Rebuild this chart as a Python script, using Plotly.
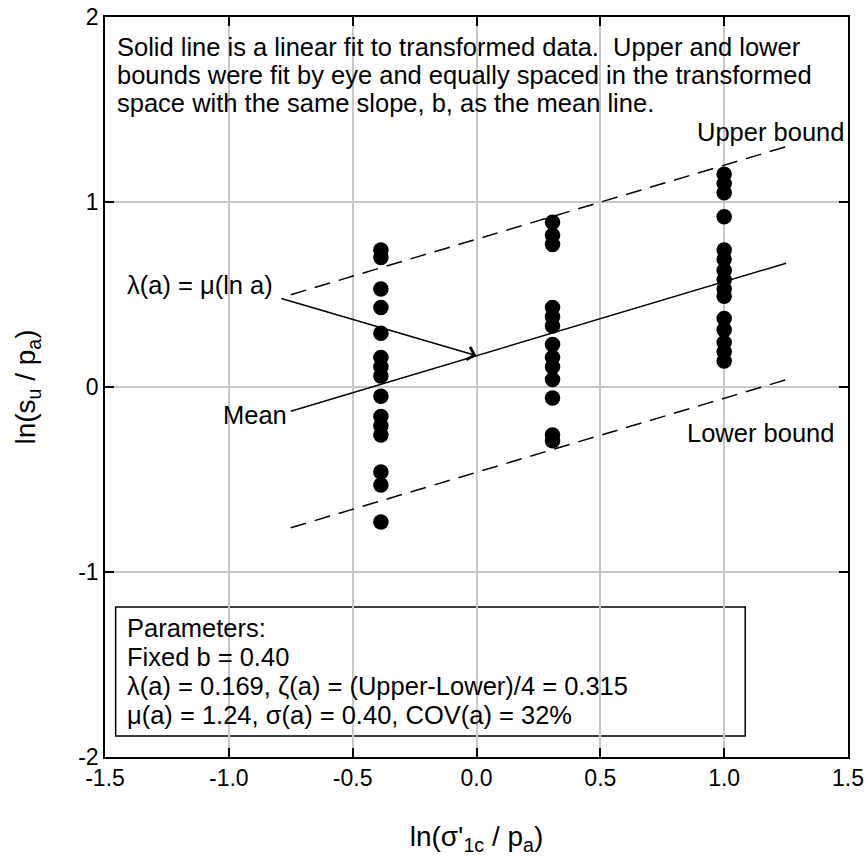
import plotly.graph_objects as go

# Stress levels ln(sigma'_1c / p_a) for the three test groups
x_levels = [-0.386, 0.307, 1.0]

# ln(s_u / p_a) measured at each stress level
y_group1 = [0.74, 0.70, 0.53, 0.43, 0.29, 0.16, 0.11, 0.06, -0.05,
            -0.16, -0.21, -0.26, -0.46, -0.53, -0.73]
y_group2 = [0.89, 0.82, 0.77, 0.43, 0.38, 0.33, 0.23, 0.16, 0.11,
            0.04, -0.06, -0.26, -0.29]
y_group3 = [1.15, 1.10, 1.05, 0.92, 0.74, 0.69, 0.63, 0.58, 0.53,
            0.49, 0.37, 0.31, 0.24, 0.19, 0.14]

# Fit parameters
b_slope = 0.40
lam = 0.169
zeta = 0.315
line_x = [-0.75, 1.25]

x_ticks = [-1.5, -1.0, -0.5, 0.0, 0.5, 1.0, 1.5]
x_tick_text = ["-1.5", "-1.0", "-0.5", "0.0", "0.5", "1.0", "1.5"]
y_ticks = [-2, -1, 0, 1, 2]
y_tick_text = ["-2", "-1", "0", "1", "2"]

note_lines = [
    "Solid line is a linear fit to transformed data.\u00a0 Upper and lower",
    "bounds were fit by eye and equally spaced in the transformed",
    "space with the same slope, b, as the mean line.",
]
param_lines = [
    "Parameters:",
    "Fixed b = 0.40",
    "\u03bb(a) = 0.169, \u03b6(a) = (Upper-Lower)/4 = 0.315",
    "\u03bc(a) = 1.24, \u03c3(a) = 0.40, COV(a) = 32%",
]

FONT = "Liberation Sans, Arial, sans-serif"
TXT = 25.5

mean_y = [lam + b_slope * x for x in line_x]
upper_y = [m + 2 * zeta for m in mean_y]
lower_y = [m - 2 * zeta for m in mean_y]

fig = go.Figure()

groups = [y_group1, y_group2, y_group3]
for xv, ys in zip(x_levels, groups):
    fig.add_trace(go.Scatter(
        x=[xv] * len(ys), y=ys, mode="markers",
        marker=dict(color="black", size=15.5, line=dict(width=0)),
        showlegend=False, hoverinfo="x+y"))

fig.add_trace(go.Scatter(x=line_x, y=mean_y, mode="lines",
                         line=dict(color="black", width=1.5),
                         showlegend=False))
for yy in (upper_y, lower_y):
    fig.add_trace(go.Scatter(x=line_x, y=yy, mode="lines",
                             line=dict(color="black", width=1.5, dash="16px,9px"),
                             showlegend=False))


def label(x, y, text, anchor="left"):
    return dict(x=x, y=y, xref="x", yref="y", text=text, showarrow=False,
                xanchor=anchor, yanchor="middle", borderpad=0,
                font=dict(family=FONT, size=TXT, color="black"))


ann = []
# Explanatory note at the top
for i, t in enumerate(note_lines):
    ann.append(label(-1.457, 1.838 - i * 0.152, t))
# Parameter block
for i, t in enumerate(param_lines):
    ann.append(label(-1.417, -1.303 - i * 0.157, t))
# Line labels
ann.append(label(1.487, 1.38, "Upper bound", "right"))
ann.append(label(1.447, -0.249, "Lower bound", "right"))
ann.append(label(-0.762, -0.151, "Mean", "right"))
ann.append(label(-1.417, 0.551, "\u03bb(a) = \u03bc(ln a)"))
# Arrow pointing at the intercept of the mean line
ann.append(dict(x=0.0, y=lam, xref="x", yref="y", ax=-0.794, ay=0.481,
                axref="x", ayref="y", text="", showarrow=True,
                arrowhead=4, arrowsize=1.7, arrowwidth=1.5, arrowcolor="black",
                standoff=0, startstandoff=0))

fig.update_layout(
    width=867, height=861,
    margin=dict(l=105, r=19, t=17, b=104),
    paper_bgcolor="white", plot_bgcolor="white",
    font=dict(family=FONT, size=23, color="black"),
    annotations=ann,
    shapes=[dict(type="rect", xref="x", yref="y", x0=-1.457, x1=1.085,
                 y0=-1.886, y1=-1.189, line=dict(color="black", width=1.5),
                 fillcolor="white", layer="below")],
    xaxis=dict(range=[-1.5, 1.5], tickvals=x_ticks, ticktext=x_tick_text,
               automargin=False,
               showgrid=True, gridcolor="#c8c8c8", gridwidth=1.5,
               zeroline=False, showline=True, linecolor="black", linewidth=1.5,
               mirror="ticks", ticks="inside", ticklen=9, tickwidth=1.5,
               tickcolor="black", tickfont=dict(size=23),
               title=dict(text="ln(\u03c3'<sub>1c</sub> / p<sub>a</sub>)",
                          font=dict(size=28), standoff=36)),
    yaxis=dict(range=[-2, 2], tickvals=y_ticks, ticktext=y_tick_text,
               automargin=False,
               showgrid=True, gridcolor="#c8c8c8", gridwidth=1.5,
               zeroline=False, showline=True, linecolor="black", linewidth=1.5,
               mirror="ticks", ticks="inside", ticklen=9, tickwidth=1.5,
               tickcolor="black", tickfont=dict(size=23),
               title=dict(text="ln(s<sub>u</sub> / p<sub>a</sub>)",
                          font=dict(size=28), standoff=34)),
)

fig.write_html("out.html")
